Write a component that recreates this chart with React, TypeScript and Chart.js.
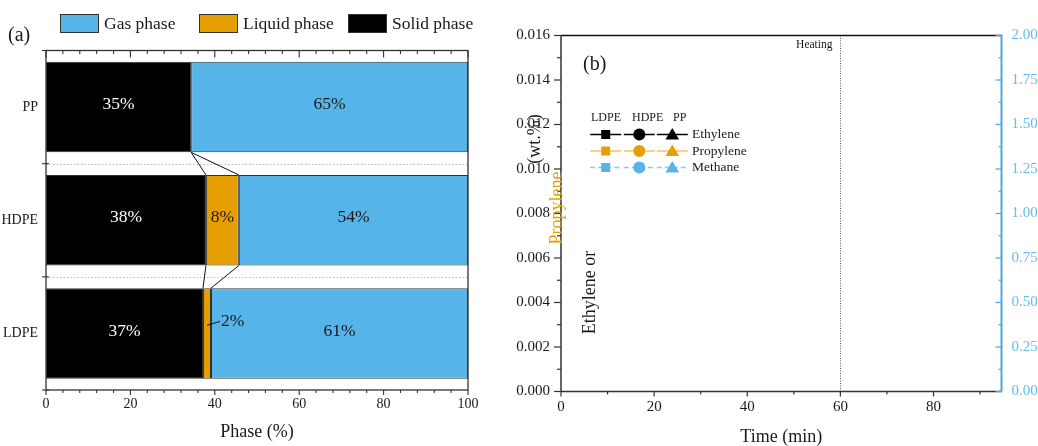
import React, { useEffect, useRef } from "react";
import { Chart, registerables } from "chart.js";

Chart.register(...registerables);

const SERIF = "'Liberation Serif', 'Times New Roman', Times, serif";

// ---------- Panel (a) data ----------
const polymers = ["PP", "HDPE", "LDPE"];
const solidPct = [34.4, 37.9, 37.2];
const liquidPct = [0, 7.8, 1.9];
const gasPct = [65.6, 54.3, 60.9];
const solidText = ["35%", "38%", "37%"];
const liquidText = ["", "8%", "2%"];
const gasText = ["65%", "54%", "61%"];
const phaseTickStep = 20;
const phaseMinorStep = 4;

// ---------- Panel (b) data ----------
const materials = ["LDPE", "HDPE", "PP"];
const gases = ["Ethylene", "Propylene", "Methane"];
const markerStyles = ["rect", "circle", "triangle"];
const timeMax = 94.6;
const heatingTime = 60;
const timeTickStep = 20;
const leftMax = 0.016;
const leftTickStep = 0.002;
const rightMax = 2;
const rightTickStep = 0.25;
const ethyleneLDPE: { x: number; y: number }[] = [];
const ethyleneHDPE: { x: number; y: number }[] = [];
const ethylenePP: { x: number; y: number }[] = [];
const propyleneLDPE: { x: number; y: number }[] = [];
const propyleneHDPE: { x: number; y: number }[] = [];
const propylenePP: { x: number; y: number }[] = [];
const methaneLDPE: { x: number; y: number }[] = [];
const methaneHDPE: { x: number; y: number }[] = [];
const methanePP: { x: number; y: number }[] = [];

const GAS_BLUE = "#56b4e9";
const ORANGE = "#e69f00";
const AXIS = "#333333";
const TEXT = "#1a1a1a";

function line(ctx: CanvasRenderingContext2D, x1: number, y1: number, x2: number, y2: number) {
  ctx.beginPath();
  ctx.moveTo(x1, y1);
  ctx.lineTo(x2, y2);
  ctx.stroke();
}

const panelAPlugin = {
  id: "panelA",
  beforeDatasetsDraw(chart: any) {
    const { ctx, chartArea: ca, scales } = chart;
    const y = scales.y;
    ctx.save();
    ctx.strokeStyle = "#b8b8b8";
    ctx.lineWidth = 1;
    ctx.setLineDash([1.5, 2]);
    for (let i = 1; i < polymers.length; i++) {
      const yb = Math.round((y.getPixelForValue(i - 1) + y.getPixelForValue(i)) / 2) + 0.5;
      line(ctx, ca.left, yb, ca.right, yb);
    }
    ctx.restore();
  },
  afterDatasetsDraw(chart: any) {
    const { ctx, chartArea: ca, scales } = chart;
    const x = scales.x;
    const y = scales.y;
    const metaSolid = chart.getDatasetMeta(0);
    const metaLiquid = chart.getDatasetMeta(1);
    const metaGas = chart.getDatasetMeta(2);
    ctx.save();

    // connectors between bars
    ctx.strokeStyle = "#111";
    ctx.lineWidth = 1;
    for (let i = 0; i < polymers.length - 1; i++) {
      const up = metaSolid.data[i];
      const dn = metaSolid.data[i + 1];
      const yUp = up.y + up.height / 2;
      const yDn = dn.y - dn.height / 2;
      line(ctx, metaSolid.data[i].x, yUp, metaSolid.data[i + 1].x, yDn);
      line(ctx, metaLiquid.data[i].x, yUp, metaLiquid.data[i + 1].x, yDn);
    }

    // value labels
    ctx.font = `17.5px ${SERIF}`;
    ctx.textBaseline = "middle";
    const groups = [
      { meta: metaSolid, texts: solidText, color: "#ffffff" },
      { meta: metaLiquid, texts: liquidText, color: TEXT },
      { meta: metaGas, texts: gasText, color: TEXT },
    ];
    groups.forEach((g) => {
      g.meta.data.forEach((el: any, i: number) => {
        const t = g.texts[i];
        if (!t) return;
        const cx = (el.x + el.base) / 2;
        const w = Math.abs(el.x - el.base);
        ctx.fillStyle = g.color;
        if (w < 20) {
          ctx.strokeStyle = "#111";
          line(ctx, cx, el.y - 8, cx + 13, el.y - 12);
          ctx.textAlign = "left";
          ctx.fillStyle = TEXT;
          ctx.fillText(t, cx + 14, el.y - 12);
        } else {
          ctx.textAlign = "center";
          ctx.fillText(t, cx, el.y - 2.5);
        }
      });
    });

    // axes frame
    ctx.strokeStyle = AXIS;
    ctx.lineWidth = 1.3;
    ctx.strokeRect(ca.left, ca.top, ca.right - ca.left, ca.bottom - ca.top);
    ctx.lineWidth = 1.1;
    for (let v = 0; v <= 100 + 1e-9; v += phaseMinorStep) {
      const px = x.getPixelForValue(v);
      const major = Math.abs(v / phaseTickStep - Math.round(v / phaseTickStep)) < 1e-6;
      line(ctx, px, ca.top, px, ca.top + (major ? 7 : 3.5));
      line(ctx, px, ca.bottom, px, ca.bottom + (major ? 5 : 3));
    }
    for (let i = 0; i <= polymers.length; i++) {
      const yb = i === 0 ? ca.top : i === polymers.length ? ca.bottom : (y.getPixelForValue(i - 1) + y.getPixelForValue(i)) / 2;
      line(ctx, ca.left - 4, yb, ca.left + 3, yb);
    }

    // legend (Gas, Liquid, Solid)
    const legendX = [60, 199, 348];
    const order = [2, 1, 0];
    ctx.font = `17.5px ${SERIF}`;
    ctx.textAlign = "left";
    ctx.textBaseline = "alphabetic";
    order.forEach((di, k) => {
      const ds = chart.data.datasets[di];
      const bx = legendX[k];
      ctx.fillStyle = ds.backgroundColor;
      ctx.fillRect(bx, 14, 39, 19);
      ctx.strokeStyle = AXIS;
      ctx.lineWidth = 1;
      ctx.strokeRect(bx + 0.5, 14.5, 38, 18);
      ctx.fillStyle = TEXT;
      ctx.fillText(ds.label, bx + 44, 28.5);
    });

    ctx.font = `20px ${SERIF}`;
    ctx.textBaseline = "middle";
    ctx.fillText("(a)", 8, 36);
    ctx.restore();
  },
};

function drawMarker(ctx: CanvasRenderingContext2D, style: string, cx: number, cy: number, color: string) {
  ctx.fillStyle = color;
  ctx.beginPath();
  if (style === "rect") ctx.rect(cx - 4.5, cy - 4.5, 9, 9);
  else if (style === "circle") ctx.arc(cx, cy, 6, 0, Math.PI * 2);
  else {
    ctx.moveTo(cx, cy - 6.5);
    ctx.lineTo(cx + 6.8, cy + 5);
    ctx.lineTo(cx - 6.8, cy + 5);
    ctx.closePath();
  }
  ctx.fill();
}

const panelBPlugin = {
  id: "panelB",
  afterDraw(chart: any) {
    const { ctx, chartArea: ca, scales } = chart;
    const x = scales.x;
    const y = scales.y;
    const y1 = scales.y1;
    ctx.save();

    // heating line
    const hx = Math.round(x.getPixelForValue(heatingTime)) + 0.5;
    ctx.strokeStyle = "#555";
    ctx.lineWidth = 1;
    ctx.setLineDash([1, 1.5]);
    line(ctx, hx, ca.top, hx, ca.bottom);
    ctx.setLineDash([]);
    ctx.font = `11.5px ${SERIF}`;
    ctx.fillStyle = TEXT;
    ctx.textAlign = "right";
    ctx.textBaseline = "middle";
    ctx.fillText("Heating", hx - 8, 45);

    // frame
    ctx.strokeStyle = "#111";
    ctx.lineWidth = 1.3;
    line(ctx, ca.left, ca.top, ca.right, ca.top);
    ctx.strokeStyle = AXIS;
    ctx.lineWidth = 1.5;
    line(ctx, ca.left, ca.top, ca.left, ca.bottom);
    line(ctx, ca.left, ca.bottom, ca.right, ca.bottom);
    ctx.strokeStyle = "#4fa6dc";
    ctx.lineWidth = 2;
    line(ctx, ca.right, ca.top - 1, ca.right, ca.bottom);

    // left ticks
    ctx.strokeStyle = AXIS;
    ctx.lineWidth = 1.2;
    const nL = Math.round(leftMax / (leftTickStep / 2));
    for (let k = 0; k <= nL; k++) {
      const py = y.getPixelForValue((k * leftTickStep) / 2);
      line(ctx, ca.left - (k % 2 === 0 ? 7 : 4), py, ca.left, py);
    }
    // bottom ticks
    for (let v = 0; v <= timeMax; v += timeTickStep / 2) {
      const px = x.getPixelForValue(v);
      const major = Math.round(v / (timeTickStep / 2)) % 2 === 0;
      line(ctx, px, ca.bottom, px, ca.bottom + (major ? 5 : 3));
    }
    // right ticks
    ctx.strokeStyle = "#4fa6dc";
    const nR = Math.round(rightMax / (rightTickStep / 2));
    for (let k = 0; k <= nR; k++) {
      const py = y1.getPixelForValue((k * rightTickStep) / 2);
      line(ctx, ca.right - (k % 2 === 0 ? 6 : 3), py, ca.right, py);
    }

    // (b)
    ctx.font = `20px ${SERIF}`;
    ctx.fillStyle = TEXT;
    ctx.textAlign = "left";
    ctx.textBaseline = "middle";
    ctx.fillText("(b)", 83, 65);

    // scattered y title
    const rot = (t: string, cx: number, cy: number, color: string) => {
      ctx.save();
      ctx.translate(cx, cy);
      ctx.rotate(-Math.PI / 2);
      ctx.font = `18px ${SERIF}`;
      ctx.fillStyle = color;
      ctx.textAlign = "center";
      ctx.textBaseline = "middle";
      ctx.fillText(t, 0, 0);
      ctx.restore();
    };
    rot("Ethylene or", 90, 292.5, TEXT);
    rot("Propylene", 57, 208, ORANGE);
    rot("(wt.%)", 35, 139, TEXT);

    // custom legend
    const colCenters = [105.7, 139.3, 172.3];
    const headX = [91, 132, 173];
    const rowY = [134.5, 151, 167.5];
    ctx.font = `12px ${SERIF}`;
    ctx.fillStyle = TEXT;
    ctx.textAlign = "left";
    materials.forEach((m, j) => ctx.fillText(m, headX[j], 118));
    const ds = chart.data.datasets;
    gases.forEach((g, r) => {
      const cy = rowY[r];
      materials.forEach((m, j) => {
        const d = ds[r * materials.length + j];
        const cx = colCenters[j];
        ctx.strokeStyle = d.borderColor;
        ctx.lineWidth = 1.5;
        ctx.setLineDash(d.borderDash || []);
        line(ctx, cx - 15.5, cy, cx + 15.5, cy);
        ctx.setLineDash([]);
        drawMarker(ctx, d.pointStyle, cx, cy, d.pointBackgroundColor);
      });
      ctx.font = `13.5px ${SERIF}`;
      ctx.fillStyle = TEXT;
      ctx.fillText(g, 192, cy);
    });
    ctx.restore();
  },
};

export default function App() {
  const refA = useRef<HTMLCanvasElement>(null);
  const refB = useRef<HTMLCanvasElement>(null);

  useEffect(() => {
    Chart.defaults.font.family = SERIF;
    const tickFontA = { family: SERIF, size: 14 };
    const chartA = new Chart(refA.current!, {
      type: "bar",
      data: {
        labels: polymers,
        datasets: [
          { label: "Solid phase", data: solidPct, backgroundColor: "#000000", borderColor: AXIS, borderWidth: 1, borderSkipped: false },
          { label: "Liquid phase", data: liquidPct, backgroundColor: ORANGE, borderColor: AXIS, borderWidth: 1, borderSkipped: false },
          { label: "Gas phase", data: gasPct, backgroundColor: GAS_BLUE, borderColor: AXIS, borderWidth: 1, borderSkipped: false },
        ],
      },
      options: {
        indexAxis: "y",
        animation: false,
        responsive: false,
        maintainAspectRatio: false,
        layout: { padding: { top: 50.5, right: 32, left: 0, bottom: 0 } },
        plugins: { legend: { display: false }, tooltip: { enabled: false } },
        datasets: { bar: { categoryPercentage: 1, barPercentage: 0.8 } },
        scales: {
          x: {
            type: "linear",
            stacked: true,
            min: 0,
            max: 100,
            ticks: { stepSize: phaseTickStep, font: tickFontA, color: TEXT, padding: 6 },
            grid: { display: false, drawTicks: false },
            border: { display: false },
            title: { display: true, text: "Phase (%)", color: TEXT, font: { family: SERIF, size: 18, lineHeight: 1 }, padding: { top: 0, bottom: 5 } },
            afterFit: (s: any) => {
              s.height = 56;
            },
          },
          y: {
            stacked: true,
            ticks: { font: tickFontA, color: TEXT, padding: 8 },
            grid: { display: false, drawTicks: false },
            border: { display: false },
            afterFit: (s: any) => {
              s.width = 46;
            },
          },
        },
      } as any,
      plugins: [panelAPlugin],
    });

    const seriesList = [
      ethyleneLDPE, ethyleneHDPE, ethylenePP,
      propyleneLDPE, propyleneHDPE, propylenePP,
      methaneLDPE, methaneHDPE, methanePP,
    ];
    const lineColors = ["#000000", "rgba(230,159,0,0.6)", "rgba(86,180,233,0.7)"];
    const pointColors = ["#000000", ORANGE, GAS_BLUE];
    const datasetsB: any[] = [];
    gases.forEach((g, r) => {
      materials.forEach((m, j) => {
        datasetsB.push({
          label: `${m} ${g}`,
          data: seriesList[r * materials.length + j],
          borderColor: lineColors[r],
          backgroundColor: pointColors[r],
          pointBackgroundColor: pointColors[r],
          pointBorderColor: pointColors[r],
          pointStyle: markerStyles[j],
          borderDash: r === 2 ? [5, 3] : [],
          yAxisID: r === 2 ? "y1" : "y",
        });
      });
    });

    const tickFontB = { family: SERIF, size: 15 };
    const chartB = new Chart(refB.current!, {
      type: "line",
      data: { datasets: datasetsB },
      options: {
        animation: false,
        responsive: false,
        maintainAspectRatio: false,
        layout: { padding: { top: 35.5, right: 0, left: 0, bottom: 0 } },
        plugins: { legend: { display: false }, tooltip: { enabled: false } },
        scales: {
          x: {
            type: "linear",
            min: 0,
            max: timeMax,
            ticks: { stepSize: timeTickStep, includeBounds: false, font: tickFontB, color: TEXT, padding: 6.5 },
            afterBuildTicks: (s: any) => {
              s.ticks = s.ticks.filter((t: any) => Math.abs(t.value / timeTickStep - Math.round(t.value / timeTickStep)) < 1e-6);
            },
            grid: { display: false, drawTicks: false },
            border: { display: false },
            title: { display: true, text: "Time (min)", color: TEXT, font: { family: SERIF, size: 18, lineHeight: 1 }, padding: { top: 0, bottom: 0 } },
            afterFit: (s: any) => {
              s.height = 54.5;
            },
          },
          y: {
            type: "linear",
            position: "left",
            min: 0,
            max: leftMax,
            ticks: { stepSize: leftTickStep, font: tickFontB, color: TEXT, padding: 11, callback: (v: any) => Number(v).toFixed(3) },
            grid: { display: false, drawTicks: false },
            border: { display: false },
            afterFit: (s: any) => {
              s.width = 61;
            },
          },
          y1: {
            type: "linear",
            position: "right",
            min: 0,
            max: rightMax,
            ticks: { stepSize: rightTickStep, font: tickFontB, color: "#62bdf0", padding: 10, callback: (v: any) => Number(v).toFixed(2) },
            grid: { display: false, drawTicks: false },
            border: { display: false },
            afterFit: (s: any) => {
              s.width = 36.5;
            },
          },
        },
      } as any,
      plugins: [panelBPlugin],
    });

    return () => {
      chartA.destroy();
      chartB.destroy();
    };
  }, []);

  return (
    <div style={{ position: "fixed", left: 0, top: 0, width: 1038, height: 446, background: "#fff" }}>
      <canvas ref={refA} width={500} height={446} style={{ position: "absolute", left: 0, top: 0, width: 500, height: 446 }} />
      <canvas ref={refB} width={538} height={446} style={{ position: "absolute", left: 500, top: 0, width: 538, height: 446 }} />
    </div>
  );
}
